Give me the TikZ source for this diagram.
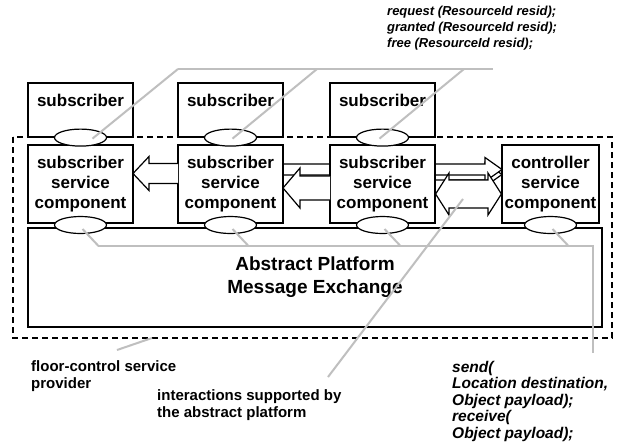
\documentclass[tikz,border=0pt]{standalone}
\usepackage{fontspec}
\setmainfont{Liberation Sans}
\usetikzlibrary{calc,shapes.geometric}
\newcommand\blockarr[6]{% tip x, tail x, centre y, shaft half, head half, head length (signed)
  \draw[barrow] ({#2},{#3-#4}) -- ({#1-(#6)},{#3-#4}) -- ({#1-(#6)},{#3-#5}) -- ({#1},{#3})
    -- ({#1-(#6)},{#3+#5}) -- ({#1-(#6)},{#3+#4}) -- ({#2},{#3+#4});}
\begin{document}
\begin{tikzpicture}[x=1pt,y=-1pt,
  boxnode/.style={draw, line width=1.2pt, fill=white, inner sep=0pt, align=center,
    font=\bfseries\fontsize{17}{20}\selectfont},
  port/.style={ellipse, draw, line width=1.2pt, fill=white, minimum width=52pt,
    minimum height=17pt, inner sep=0pt},
  grayline/.style={draw=black!25, line width=2pt},
  barrow/.style={draw, line width=1.2pt, fill=white, line join=miter},
  provider/.style={draw, dash pattern=on 6pt off 4pt, line width=1.5pt},
  lbl/.style={inner sep=0pt, align=left, anchor=north west,
    font=\bfseries\fontsize{15}{17}\selectfont},
  ilbl/.style={inner sep=0pt, align=left, anchor=north west,
    font=\bfseries\itshape\fontsize{15.5}{16.5}\selectfont}]
\useasboundingbox[fill=white] (0,0) rectangle (618,447);

% provider boundary
\draw[provider] (13,137) rectangle (612,338);

% arrows towards the controller (the upper one runs behind the third component)
\blockarr{502}{435}{174.5}{5.5}{12}{17}
\blockarr{502}{283}{169.5}{5.5}{12}{17}

% boxes
\node[boxnode, minimum width=105pt, text height=23.5pt, text depth=30.5pt] (s1) at (80.5,110) {subscriber};
\node[boxnode, minimum width=105pt, text height=23.5pt, text depth=30.5pt] (s2) at (230.5,110) {subscriber};
\node[boxnode, minimum width=105pt, text height=23.5pt, text depth=30.5pt] (s3) at (382.5,110) {subscriber};
\node[boxnode, minimum width=105pt, minimum height=78pt] (c1) at (80.5,184) {subscriber\\service\\component};
\node[boxnode, minimum width=105pt, minimum height=78pt] (c2) at (230.5,184) {subscriber\\service\\component};
\node[boxnode, minimum width=105pt, minimum height=78pt] (c3) at (382.5,184) {subscriber\\service\\component};
\node[boxnode, minimum width=97pt, minimum height=78pt] (ctl) at (550.5,184) {controller\\service\\component};
\node[boxnode, minimum width=574pt, minimum height=99pt, font=\bfseries\fontsize{19}{23}\selectfont] (ap) at (315,277.5) {Abstract Platform\\Message Exchange};

% block arrows
\blockarr{133}{178}{173.5}{10}{17}{-16}
\blockarr{283}{330}{188}{12}{20}{-17}
\draw[barrow] (c3.east |- 0,194) -- (449,173) -- (449,180) -- (488,180) -- (488,173)
  -- (ctl.west |- 0,194) -- (488,215) -- (488,208) -- (449,208) -- (449,215) -- cycle;
\coordinate (ia) at (463,199);

% ports
\node[port] (te1) at (s1.south) {};
\node[port] (te2) at (s2.south) {};
\node[port] (te3) at (s3.south) {};
\node[port] (be1) at (80.5,225) {};
\node[port] (be2) at (230.5,225) {};
\node[port] (be3) at (382.5,225) {};
\node[port] (be4) at (550.5,225) {};

% gray reference lines (top)
\coordinate (h1) at (178,69);
\coordinate (h2) at (317,69);
\coordinate (h3) at (464,69);
\coordinate (h4) at (493,69);
\draw[grayline] (h1) -- (h4);
\draw[grayline] (h1) -- ($(te1)+(12,1)$);
\draw[grayline] (h2) -- ($(te2)+(2,1)$);
\draw[grayline] (h3) -- ($(te3)+(-3,1)$);

% gray bus (bottom)
\coordinate (b0) at (98,246);
\coordinate (b1) at (593,246);
\coordinate (b2) at (593,353);
\draw[grayline] (b0) -- (b1) -- (b2);
\foreach \e in {be1,be2,be3,be4}
  \draw[grayline] ($(\e)+(2,4)$) -- ($(\e)+(18,21)$);

% pointers
\coordinate (fp1) at (152,338);
\coordinate (fp2) at (117,350);
\draw[grayline] (fp1) -- (fp2);
\coordinate (ip) at (328,377);
\draw[grayline] (ia) -- (ip);

% texts
\node[inner sep=0pt, align=left, anchor=north west,
  font=\bfseries\itshape\fontsize{13}{16}\selectfont] (ops) at (387,6)
  {request (ResourceId resid);\\granted (ResourceId resid);\\free (ResourceId resid);};
\node[lbl] (fc) at (31,360) {floor-control service\\provider};
\node[lbl] (ins) at (157,389) {interactions supported by\\the abstract platform};
\node[ilbl] (sr) at (452,361) {send(\\Location destination,\\Object payload);\\receive(\\Object payload);};
\end{tikzpicture}
\end{document}
